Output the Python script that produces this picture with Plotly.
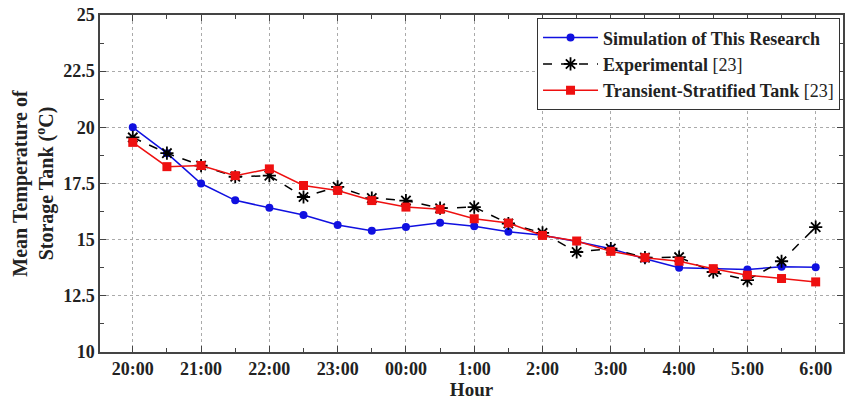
import plotly.graph_objects as go

hours = [i * 0.5 for i in range(21)]
tick_vals = list(range(11))
tick_text = ["20:00", "21:00", "22:00", "23:00", "00:00", "1:00", "2:00", "3:00", "4:00", "5:00", "6:00"]
y_ticks = [10, 12.5, 15, 17.5, 20, 22.5, 25]

simulation = [20.0, 18.85, 17.5, 16.75, 16.42, 16.1, 15.65, 15.4, 15.56, 15.75, 15.6, 15.35, 15.2,
              14.92, 14.6, 14.15, 13.75, 13.7, 13.67, 13.8, 13.77]
experimental = [19.55, 18.85, 18.3, 17.8, 17.85, 16.9, 17.35, 16.85, 16.74, 16.4, 16.45, 15.72, 15.3,
                14.45, 14.6, 14.2, 14.22, 13.56, 13.2, 14.04, 15.56]
stratified = [19.33, 18.25, 18.3, 17.85, 18.15, 17.41, 17.19, 16.74, 16.45, 16.35, 15.93, 15.74, 15.19,
              14.94, 14.48, 14.2, 14.04, 13.71, 13.42, 13.27, 13.12]

FONT = "Liberation Serif, Times New Roman, serif"

fig = go.Figure()
fig.add_trace(go.Scatter(
    x=hours, y=simulation, mode="lines+markers",
    name="<b>Simulation of This Research</b>",
    line=dict(color="#1010e0", width=1.5),
    marker=dict(symbol="circle", size=8, color="#1010e0"),
))
fig.add_trace(go.Scatter(
    x=hours, y=experimental, mode="lines+markers",
    name="<b>Experimental</b> [23]",
    line=dict(color="black", width=1.5, dash="dash"),
    marker=dict(symbol="asterisk-open", size=11, color="black", line=dict(color="black", width=1.8)),
))
fig.add_trace(go.Scatter(
    x=hours, y=stratified, mode="lines+markers",
    name="<b>Transient-Stratified Tank</b> [23]",
    line=dict(color="#ee1010", width=1.5),
    marker=dict(symbol="square", size=9, color="#ee1010"),
))

axis_common = dict(
    showline=True, linecolor="#444", linewidth=1.5, mirror="ticks",
    ticks="inside", ticklen=6, tickcolor="#444",
    showgrid=True, gridcolor="#aaaaaa", griddash="dot", gridwidth=1,
    zeroline=False,
    tickfont=dict(family=FONT, size=18, color="#222"),
)

fig.update_xaxes(
    **axis_common,
    range=[-0.48, 10.4],
    tickvals=tick_vals, ticktext=[f"<b>{t}</b>" for t in tick_text],
    minor=dict(dtick=0.5, tick0=0, ticks="inside", ticklen=4, tickcolor="#444", showgrid=False),
    title=dict(text="<b>Hour</b>", font=dict(family=FONT, size=19, color="#222"), standoff=0),
)
fig.update_yaxes(
    **axis_common,
    range=[10, 25],
    tickvals=y_ticks,
    ticktext=[f"<b>{v:g}</b>" for v in y_ticks],
    minor=dict(dtick=1.25, tick0=10, ticks="inside", ticklen=4, tickcolor="#444", showgrid=False),
    title=dict(text="<b>Mean Temperature of<br>Storage Tank (<sup>o</sup>C)</b>",
               font=dict(family=FONT, size=20, color="#222"), standoff=4),
)

fig.update_layout(
    width=850, height=401,
    margin=dict(l=100, r=5, t=14, b=49),
    paper_bgcolor="white", plot_bgcolor="white",
    font=dict(family=FONT, size=18, color="#222"),
    showlegend=True,
    legend=dict(
        x=0.996, y=0.99, xanchor="right", yanchor="top",
        bgcolor="white", bordercolor="#333", borderwidth=1,
        font=dict(family=FONT, size=18, color="#222"),
        tracegroupgap=0, itemwidth=55,
    ),
)

fig.write_html("out.html")
